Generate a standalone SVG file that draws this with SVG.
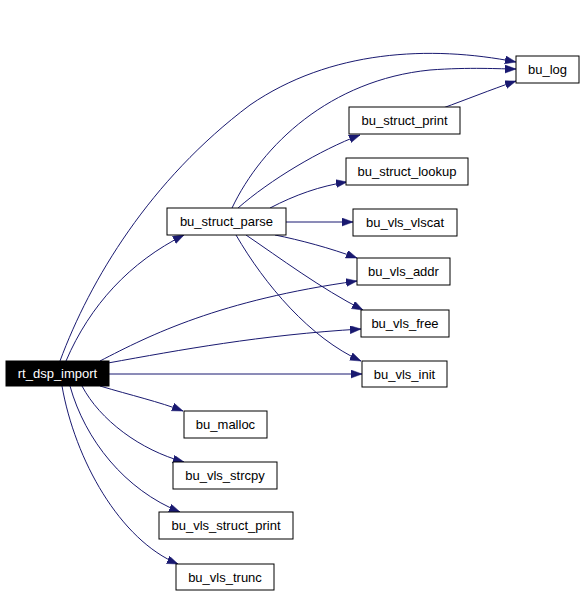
<svg xmlns="http://www.w3.org/2000/svg" width="584" height="595" viewBox="0 0 584 595">
<style>
.n rect{fill:#fff;stroke:#000;stroke-width:1}
.n text{font-family:"Liberation Sans",Arial,Helvetica,sans-serif;font-size:13px;text-anchor:middle;fill:#000}
#rt_dsp_import rect{fill:#000}
#rt_dsp_import text{fill:#fff}
.e path{fill:none;stroke:#191970;stroke-width:1;marker-end:url(#ah)}
</style>
<defs>
<marker id="ah" markerUnits="userSpaceOnUse" markerWidth="12" markerHeight="9" refX="11" refY="4" orient="auto">
<path d="M0,0 L11,4 L0,8 z" fill="#191970" stroke="#191970" stroke-width="0.5"/>
</marker>
</defs>
<rect width="584" height="595" fill="#fff"/>
<g class="e" id="edges">
<path d="M60,361 C90,280 150,180 250,105 C330,50 430,45 516,62"/>
<path d="M66,361 C90,305 130,262 184,235"/>
<path d="M100,361 C150,335 220,300 357,281"/>
<path d="M108,363 C180,350 260,335 361,329"/>
<path d="M109,374 L362,374"/>
<path d="M100,386 C130,395 160,402 183,411"/>
<path d="M82,386 C100,420 140,450 184,462"/>
<path d="M70,386 C85,440 125,490 180,512"/>
<path d="M62,386 C75,460 120,540 178,564"/>
<path d="M232,208 C262,145 330,80 430,70 C470,67 500,69 516,69"/>
<path d="M238,208 C270,180 320,150 360,135"/>
<path d="M270,208 C295,195 320,186 347,182"/>
<path d="M286,222 L353,222"/>
<path d="M275,235 C300,240 330,248 357,258"/>
<path d="M246,235 C280,258 320,288 363,310"/>
<path d="M236,235 C265,285 310,338 361,361"/>
<path d="M443,108 C465,100 490,90 516,81"/>
</g>
<g class="n" id="rt_dsp_import"><rect x="6" y="361" width="103" height="25"/><text x="57.5" y="378">rt_dsp_import</text></g>
<g class="n" id="bu_struct_parse"><rect x="167" y="208" width="119" height="27"/><text x="226.5" y="226">bu_struct_parse</text></g>
<g class="n" id="bu_log"><rect x="516" y="56" width="63" height="27"/><text x="547.5" y="74">bu_log</text></g>
<g class="n" id="bu_struct_print"><rect x="349" y="107" width="111" height="27"/><text x="404.5" y="125">bu_struct_print</text></g>
<g class="n" id="bu_struct_lookup"><rect x="346" y="158" width="122" height="27"/><text x="407" y="176">bu_struct_lookup</text></g>
<g class="n" id="bu_vls_vlscat"><rect x="353" y="209" width="104" height="27"/><text x="405" y="227">bu_vls_vlscat</text></g>
<g class="n" id="bu_vls_addr"><rect x="357" y="258" width="93" height="27"/><text x="403.5" y="276">bu_vls_addr</text></g>
<g class="n" id="bu_vls_free"><rect x="361" y="310" width="88" height="27"/><text x="405" y="328">bu_vls_free</text></g>
<g class="n" id="bu_vls_init"><rect x="362" y="361" width="85" height="26"/><text x="404.5" y="379">bu_vls_init</text></g>
<g class="n" id="bu_malloc"><rect x="184" y="411" width="83" height="27"/><text x="225.5" y="429">bu_malloc</text></g>
<g class="n" id="bu_vls_strcpy"><rect x="173" y="462" width="104" height="27"/><text x="225" y="480">bu_vls_strcpy</text></g>
<g class="n" id="bu_vls_struct_print"><rect x="159" y="512" width="134" height="27"/><text x="226" y="530">bu_vls_struct_print</text></g>
<g class="n" id="bu_vls_trunc"><rect x="176" y="564" width="98" height="26"/><text x="225" y="582">bu_vls_trunc</text></g>
</svg>
